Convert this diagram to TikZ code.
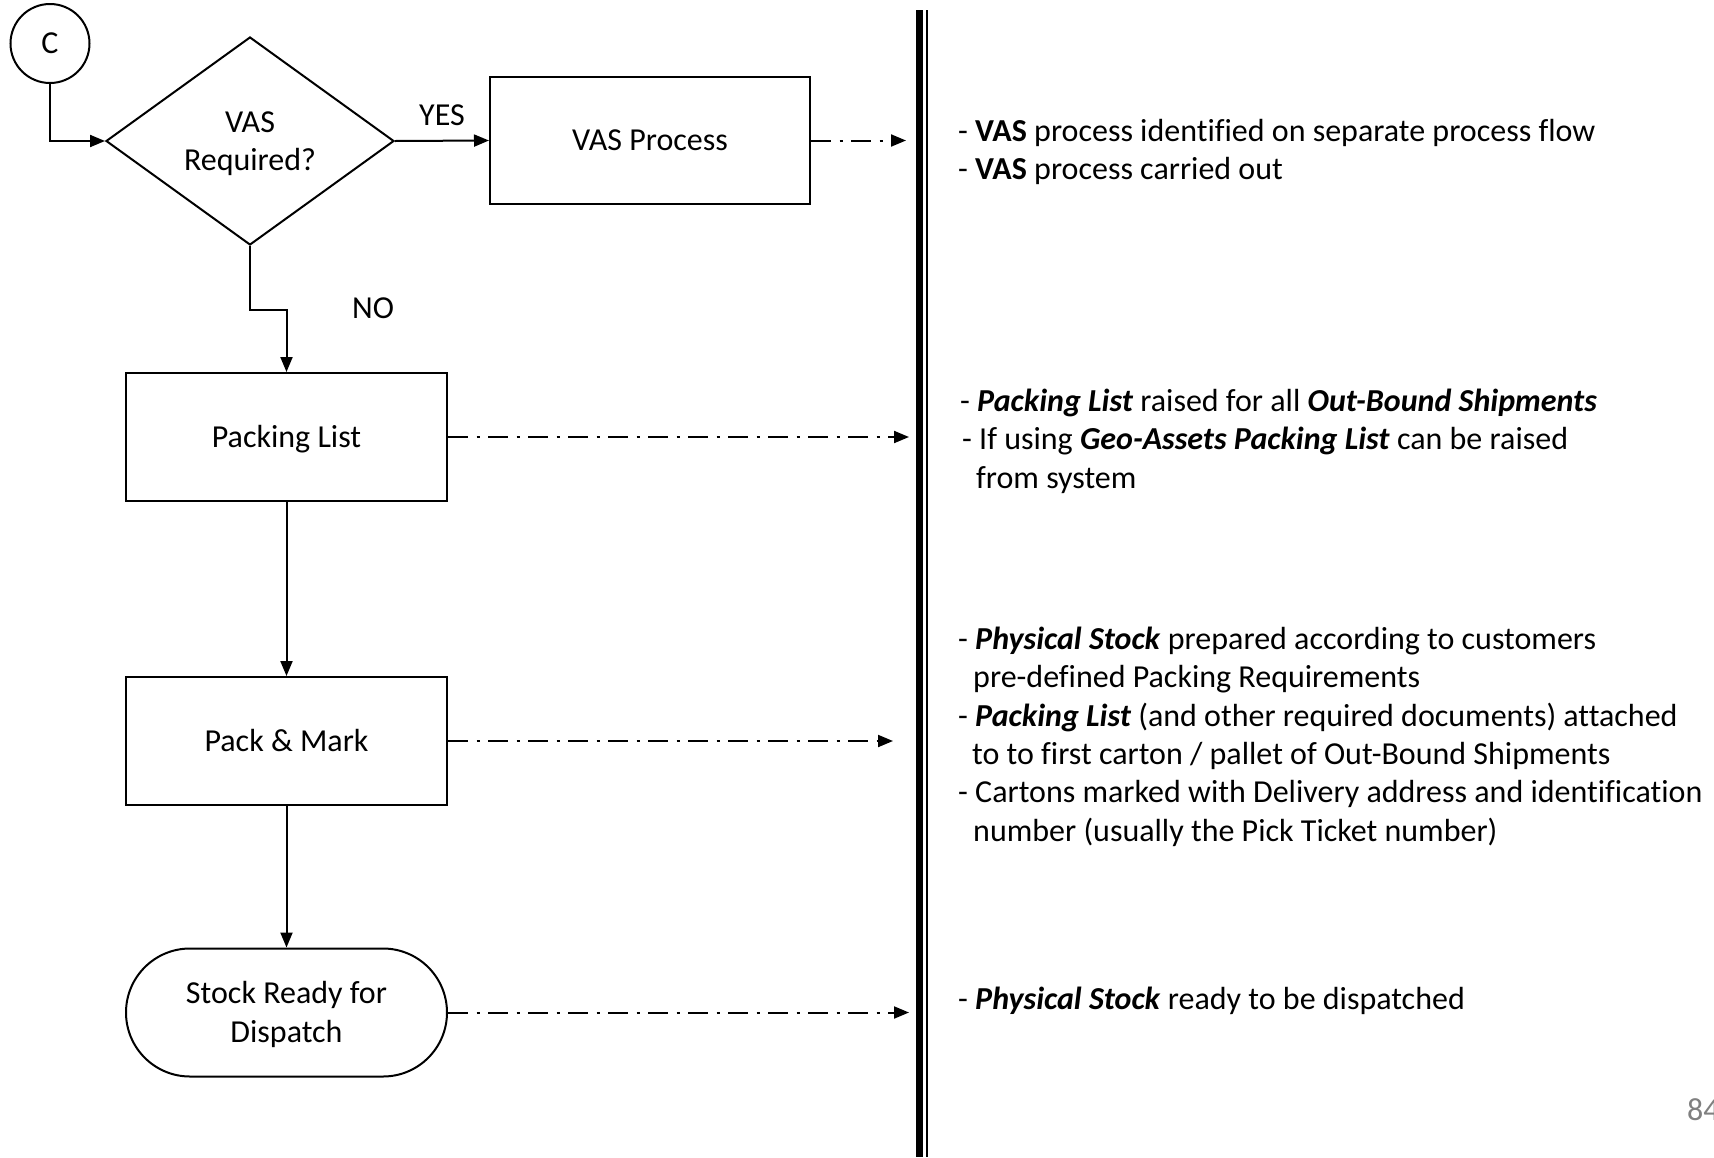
\documentclass[tikz,border=0pt]{standalone}
\usepackage{fontspec}
\setmainfont{Carlito}[Ligatures=NoCommon]
\usetikzlibrary{shapes.geometric,shapes.misc,arrows.meta}
\definecolor{pagegray}{RGB}{128,128,128}
% fixed line height inside shapes, so descenders do not shift the centring
\newcommand{\fixline}[1]{\vrule height 27pt depth 6.5pt width 0pt#1}
\begin{document}
\begin{tikzpicture}[x=1pt,y=-1pt,
  every node/.style={font=\fontsize{32}{38.5}\selectfont},
  procbox/.style={draw,line width=2pt,minimum width=320pt,minimum height=127pt,inner sep=0pt,align=center},
  decision/.style={draw,diamond,line width=2pt,minimum width=288pt,minimum height=208pt,inner sep=0pt,align=center},
  terminal/.style={draw,rounded rectangle,line width=2pt,minimum width=321pt,minimum height=128pt,inner sep=0pt,align=center},
  connector/.style={draw,circle,line width=2pt,minimum size=79pt,inner sep=0pt},
  flow/.style={line width=2pt,-{Triangle[length=15pt,width=12pt]}},
  note/.style={line width=2pt,dash pattern=on 20pt off 8.5pt on 3pt off 8.5pt,-{Triangle[length=15pt,width=12pt]}},
  txt/.style={anchor=base west,inner sep=0pt},
  lbl/.style={inner sep=0pt}
]
\useasboundingbox (0,0) rectangle (1714,1157);

% flowchart nodes
\node[connector] (c) at (50,43.5) {\fixline{C}};
\node[decision] (q) at (250,141) {\fixline{VAS}\\\fixline{Required?}};
\node[procbox] (vas) at (650,140.5) {\fixline{VAS Process}};
\node[procbox,minimum width=321pt,minimum height=128pt] (pl) at (286.5,437) {\fixline{Packing List}};
\node[procbox,minimum width=321pt,minimum height=128pt] (pm) at (286.5,741) {\fixline{Pack \& Mark}};
\node[terminal] (sr) at (286.5,1012.5) {\fixline{Stock Ready for}\\\fixline{Dispatch}};

% solid flow connectors
\draw[flow] (c.south) |- (q.west);
\draw[flow] (q.east) -- node[lbl,above=14pt] {YES} (vas.west);
\draw[flow] (q.south) -- ++(0,64) coordinate (bend) -| (pl.north);
\node[lbl] (no) at (373,308) {NO};
\draw[flow] (pl.south) -- (pm.north);
\draw[flow] (pm.south) -- (sr.north);

% divider between flow and notes
\draw[line width=7pt] (919.5,10) -- (919.5,1157);
\draw[line width=2pt] (927,10) -- (927,1157);

% dash-dot pointers to the notes
\coordinate (tvas) at (906,140.5);
\coordinate (tpl) at (909,437);
\coordinate (tpm) at (893,741);
\coordinate (tsr) at (909,1012.5);
\draw[note] (vas.east) -- (tvas);
\draw[note] (pl.east) -- (tpl);
\draw[note] (pm.east) -- (tpm);
\draw[note] (sr.east) -- (tsr);

% notes
\node[txt] (n1) at (958,141.5) {- \textbf{VAS} process identified on separate process flow};
\node[txt] (n2) at (958,179.5) {- \textbf{VAS} process carried out};

\node[txt] (n3) at (960,411) {- \textbf{\textit{Packing List}} raised for all \textbf{\textit{Out-Bound Shipments}}};
\node[txt] (n4) at (962,449) {- If using \textbf{\textit{Geo-Assets Packing List}} can be raised};
\node[txt] (n5) at (976,488) {from system};

\node[txt] (n6) at (958,649) {- \textbf{\textit{Physical Stock}} prepared according to customers};
\node[txt] (n7) at (973,687) {pre-defined Packing Requirements};
\node[txt] (n8) at (958,726) {- \textbf{\textit{Packing List}} (and other required documents) attached};
\node[txt] (n9) at (972,764) {to to first carton / pallet of Out-Bound Shipments};
\node[txt] (n10) at (958,802) {- Cartons marked with Delivery address and identification};
\node[txt] (n11) at (973,841) {number (usually the Pick Ticket number)};

\node[txt] (n12) at (958,1009) {- \textbf{\textit{Physical Stock}} ready to be dispatched};

% page number
\node[txt,text=pagegray] (pg) at (1687,1120) {84};
\end{tikzpicture}
\end{document}
